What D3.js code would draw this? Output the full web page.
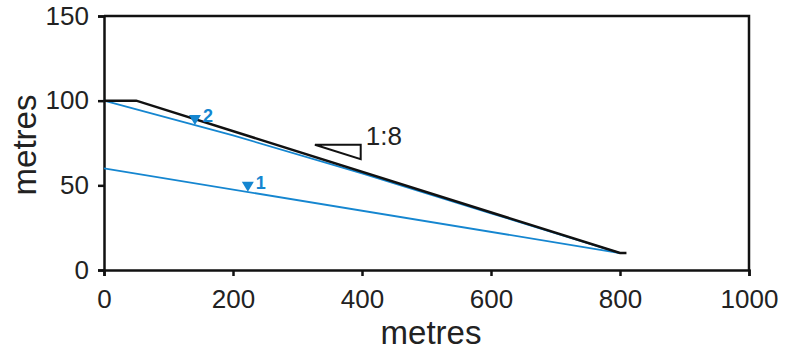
<!DOCTYPE html>
<html>
<head>
<meta charset="utf-8">
<script src="https://cdn.jsdelivr.net/npm/d3@7"></script>
<style>
body { margin: 0; background: #fff; }
svg { display: block; font-family: "Liberation Sans", Arial, sans-serif; }
</style>
</head>
<body>
<script>
// datos
var xTicks = [0, 200, 400, 600, 800, 1000];
var yTicks = [0, 50, 100, 150];
var terreno = [[0, 100], [50, 100], [800, 10], [810, 10]];
var nivel2 = [[0, 100], [200, 79.5], [400, 57], [600, 33.5], [800, 10]];
var nivel1 = [[0, 60], [800, 10]];
var marcas = [{ x: 141, y: 85.6, label: "2" }, { x: 223, y: 46.2, label: "1" }];
var pendiente = { x0: 327, x1: 398, arriba: 74, abajo: 65.5, label: "1:8" };

var azul = "#1586d0";

function dibujar() {
    var svg = d3.select('body').append('svg').attr('width', 787).attr('height', 354);
    var x = d3.scaleLinear().domain([0, 1000]).range([104, 749]);
    var y = d3.scaleLinear().domain([0, 150]).range([270, 16]);
    var linea = d3.line().x(d => x(d[0])).y(d => y(d[1]));

    // marco superior y derecho
    svg.append('path').attr('d', `M${x(0)},${y(150)}H${x(1000)}V${y(0)}`)
        .attr('fill', 'none').attr('stroke', '#111').attr('stroke-width', 2.5);

    var ejeX = svg.append('g').attr('transform', `translate(0,${y(0)})`)
        .call(d3.axisBottom(x).tickValues(xTicks).tickSize(6).tickPadding(14).tickFormat(d3.format('d')));
    var ejeY = svg.append('g').attr('transform', `translate(${x(0)},0)`)
        .call(d3.axisLeft(y).tickValues(yTicks).tickSize(6).tickPadding(9).tickFormat(d3.format('d')));
    [ejeX, ejeY].forEach(function (e) {
        e.select('.domain').attr('stroke', '#111').attr('stroke-width', 2.5);
        e.selectAll('.tick line').attr('stroke', '#111').attr('stroke-width', 2.5);
        e.selectAll('.tick text').attr('fill', '#222').style('font-size', '26px');
    });

    svg.append('text').attr('x', 431).attr('y', 344).attr('text-anchor', 'middle')
        .style('font-size', '33px').attr('fill', '#222').text('metres');
    svg.append('text').attr('transform', 'translate(36,145) rotate(-90)').attr('text-anchor', 'middle')
        .style('font-size', '33px').attr('fill', '#222').text('metres');

    svg.append('path').attr('d', linea(nivel1)).attr('fill', 'none').attr('stroke', azul).attr('stroke-width', 1.8);
    svg.append('path').attr('d', linea(nivel2)).attr('fill', 'none').attr('stroke', azul).attr('stroke-width', 1.8);
    svg.append('path').attr('d', linea(terreno)).attr('fill', 'none').attr('stroke', '#111').attr('stroke-width', 2.5);

    // triangulos invertidos
    marcas.forEach(function (m) {
        var cx = x(m.x), cy = y(m.y);
        svg.append('path').attr('d', `M${cx - 6},${cy - 10}L${cx + 6},${cy - 10}L${cx},${cy}Z`).attr('fill', azul);
        svg.append('text').attr('x', cx + 8).attr('y', cy - 3).attr('fill', azul)
            .style('font-size', '18px').style('font-weight', 'bold').text(m.label);
    });

    // triangulo de pendiente
    svg.append('path')
        .attr('d', `M${x(pendiente.x0)},${y(pendiente.arriba)}L${x(pendiente.x1)},${y(pendiente.arriba)}L${x(pendiente.x1)},${y(pendiente.abajo)}Z`)
        .attr('fill', 'none').attr('stroke', '#111').attr('stroke-width', 2);
    svg.append('text').attr('x', x(pendiente.x1) + 5).attr('y', y(pendiente.arriba))
        .style('font-size', '26px').attr('fill', '#222').text(pendiente.label);
}
window.onload = dibujar;
</script>
</body>
</html>
